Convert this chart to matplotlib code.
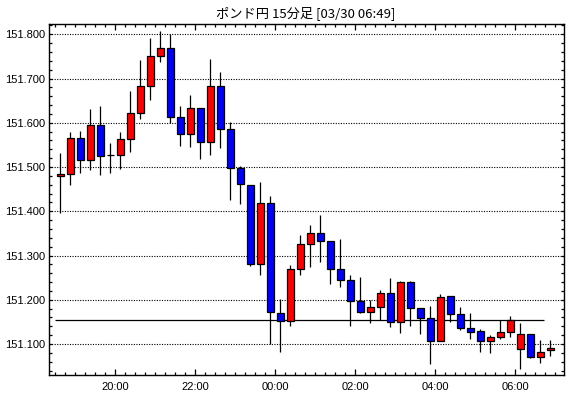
# %% imports
import matplotlib
matplotlib.use('Agg')
import matplotlib.pyplot as plt
from matplotlib.ticker import FixedLocator, MultipleLocator

plt.rcParams['font.family'] = ['Liberation Sans', 'Noto Sans CJK JP', 'DejaVu Sans']

# %% data (15 min bars, 18:30 -> 06:45)
opens = [151.479, 151.484, 151.565, 151.517, 151.594, 151.527, 151.528, 151.563, 151.622, 151.683,
         151.750, 151.768, 151.612, 151.574, 151.633, 151.556, 151.683, 151.585, 151.497, 151.459,
         151.280, 151.418, 151.170, 151.151, 151.269, 151.325, 151.350, 151.332, 151.269, 151.244,
         151.197, 151.173, 151.183, 151.215, 151.149, 151.240, 151.181, 151.158, 151.106, 151.208,
         151.167, 151.136, 151.129, 151.106, 151.115, 151.127, 151.088, 151.122, 151.070, 151.086]
highs = [151.532, 151.579, 151.582, 151.631, 151.638, 151.554, 151.579, 151.672, 151.742, 151.792,
         151.808, 151.801, 151.637, 151.662, 151.633, 151.744, 151.714, 151.601, 151.502, 151.459,
         151.466, 151.434, 151.201, 151.278, 151.346, 151.368, 151.391, 151.332, 151.337, 151.255,
         151.252, 151.200, 151.223, 151.249, 151.242, 151.242, 151.181, 151.185, 151.212, 151.208,
         151.184, 151.170, 151.133, 151.120, 151.154, 151.163, 151.147, 151.122, 151.109, 151.109]
lows = [151.396, 151.460, 151.487, 151.494, 151.481, 151.487, 151.496, 151.535, 151.608, 151.652,
        151.738, 151.599, 151.548, 151.546, 151.519, 151.528, 151.544, 151.426, 151.417, 151.277,
        151.257, 151.099, 151.081, 151.141, 151.257, 151.275, 151.286, 151.236, 151.230, 151.141,
        151.171, 151.148, 151.154, 151.139, 151.126, 151.141, 151.123, 151.054, 151.106, 151.149,
        151.131, 151.111, 151.081, 151.079, 151.111, 151.115, 151.044, 151.068, 151.057, 151.072]
closes = [151.484, 151.565, 151.517, 151.594, 151.526, 151.527, 151.563, 151.622, 151.683, 151.750,
          151.768, 151.612, 151.574, 151.633, 151.556, 151.683, 151.585, 151.497, 151.461, 151.282,
          151.418, 151.172, 151.151, 151.269, 151.325, 151.350, 151.332, 151.269, 151.244, 151.197,
          151.173, 151.183, 151.215, 151.149, 151.240, 151.181, 151.158, 151.106, 151.206, 151.167,
          151.136, 151.127, 151.106, 151.115, 151.127, 151.154, 151.122, 151.070, 151.081, 151.090]
ref_price = 151.154
time_labels = ['20:00', '22:00', '00:00', '02:00', '04:00', '06:00']
title = 'ポンド円 15分足 [03/30 06:49]'

# %% plot
fig = plt.figure(figsize=(5.7, 3.98), dpi=100)
ax = fig.add_axes([0.0865, 0.0585, 0.9035, 0.8805])

x = list(range(len(opens)))
colors = []
for o, c in zip(opens, closes):
    colors.append('#ff0000' if c > o else ('#0000ff' if c < o else 'black'))

ax.vlines(x, lows, highs, color='black', lw=0.9, zorder=3)
bottoms = [min(o, c) for o, c in zip(opens, closes)]
heights = [abs(c - o) for o, c in zip(opens, closes)]
ax.bar(x, heights, bottom=bottoms, width=0.68, color=colors, edgecolor='black', lw=0.9, zorder=4)

ax.hlines(ref_price, -0.5, 48.4, color='black', lw=0.9, zorder=2)

ax.set_xlim(-1.1, 50.4)
ax.set_ylim(151.0307, 151.8226)

# y axis
ax.yaxis.set_major_locator(FixedLocator([151.1 + 0.1 * k for k in range(8)]))
ax.yaxis.set_minor_locator(MultipleLocator(0.02))
ax.yaxis.set_major_formatter(plt.FuncFormatter(lambda v, p: f'{v:.3f}'))
ax.grid(axis='y', color='black', linestyle=(0, (1, 1.3)), lw=0.8)

# x axis: minor tick every bar, major every 2h
ax.xaxis.set_major_locator(FixedLocator([5.5 + 8 * k for k in range(6)]))
ax.xaxis.set_minor_locator(FixedLocator([k + 0.5 for k in range(-1, 50)]))
ax.set_xticklabels(time_labels)

ax.tick_params(which='both', direction='in', top=True, right=True, labelsize=8, colors='black')
ax.tick_params(which='major', length=4.5, width=0.9, pad=5)
ax.tick_params(which='minor', length=2.2, width=0.9)
ax.tick_params(axis='y', which='major', length=2.2, pad=3)
for s in ax.spines.values():
    s.set_linewidth(1.0)

fig.text(0.537, 0.967, title, ha='center', va='center', fontsize=9.5,
         family=['Noto Sans CJK JP', 'DejaVu Sans'])

fig.savefig('out.png', dpi=100)
